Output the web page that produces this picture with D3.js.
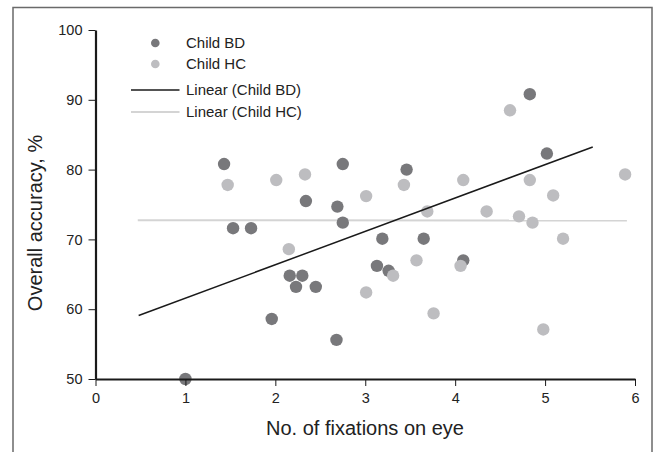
<!DOCTYPE html>
<html>
<head>
<meta charset="utf-8">
<script src="https://cdn.jsdelivr.net/npm/d3@7"></script>
<style>
body { margin: 0; background: #fff; }
svg { display: block; font-family: "Liberation Sans", Arial, sans-serif; }
</style>
</head>
<body>
<svg id="chart" width="656" height="452"></svg>
<script>
var seriesNames = ["Child BD", "Child HC"];
var bdX = [1.0, 1.43, 1.53, 1.73, 1.96, 2.16, 2.30, 2.23, 2.45, 2.34, 2.69, 2.75, 2.75, 2.68, 3.13, 3.19, 3.26, 3.46, 3.65, 4.09, 4.83, 5.02];
var bdY = [50.0, 80.8, 71.6, 71.6, 58.6, 64.8, 64.8, 63.2, 63.2, 75.5, 74.7, 80.8, 72.4, 55.6, 66.2, 70.1, 65.5, 80.0, 70.1, 67.0, 90.8, 82.3];
var hcX = [1.47, 2.01, 2.15, 2.33, 3.01, 3.01, 3.31, 3.43, 3.57, 3.69, 3.76, 4.06, 4.09, 4.35, 4.61, 4.71, 4.83, 4.86, 4.98, 5.09, 5.20, 5.89];
var hcY = [77.8, 78.5, 68.6, 79.3, 76.2, 62.4, 64.8, 77.8, 67.0, 74.0, 59.4, 66.2, 78.5, 74.0, 88.5, 73.3, 78.5, 72.4, 57.1, 76.3, 70.1, 79.3];
// x range each trendline is drawn over
var bdTrendRange = [0.48, 5.53];
var hcTrendRange = [0.47, 5.91];
var xTicks = [0, 1, 2, 3, 4, 5, 6];
var yTicks = [50, 60, 70, 80, 90, 100];

var darkColor = "#78787b";
var lightColor = "#bdbdc0";

var svg = d3.select("#chart");
var xScale = d3.scaleLinear().domain([0, 6]).range([95.5, 635]);
var yScale = d3.scaleLinear().domain([50, 100]).range([379, 30]);

// outer frame
svg.append("rect")
	.attr("x", 13).attr("y", 7.5)
	.attr("width", 639).attr("height", 460)
	.attr("fill", "none")
	.attr("stroke", "#6a6a6a")
	.attr("stroke-width", 1.5);

function linearFit(xs, ys) {
	var mx = d3.mean(xs), my = d3.mean(ys);
	var sxy = 0, sxx = 0;
	for (var i = 0; i<xs.length; i++) {
		sxy += (xs[i]-mx)*(ys[i]-my);
		sxx += (xs[i]-mx)*(xs[i]-mx);
	}
	var slope = sxy/sxx;
	return {slope: slope, intercept: my - slope*mx};
}

function drawTrend(xs, ys, range, color, width) {
	var fit = linearFit(xs, ys);
	var pts = range.map(function (x) { return [x, fit.intercept + fit.slope*x]; });
	svg.append("path")
		.attr("d", d3.line().x(function (d) { return xScale(d[0]); }).y(function (d) { return yScale(d[1]); })(pts))
		.attr("fill", "none")
		.attr("stroke", color)
		.attr("stroke-width", width);
}

function drawPoints(xs, ys, color) {
	svg.append("g").selectAll("circle")
		.data(xs.map(function (x, i) { return [x, ys[i]]; }))
		.join("circle")
		.attr("cx", function (d) { return xScale(d[0]); })
		.attr("cy", function (d) { return yScale(d[1]); })
		.attr("r", 6.2)
		.attr("fill", color);
}

drawTrend(hcX, hcY, hcTrendRange, "#d4d4d4", 2);
drawPoints(bdX, bdY, darkColor);
drawPoints(hcX, hcY, lightColor);
drawTrend(bdX, bdY, bdTrendRange, "#1a1a1a", 1.5);

// axes
var xAxis = svg.append("g")
	.attr("transform", "translate(0,379)")
	.call(d3.axisBottom(xScale).tickValues(xTicks).tickFormat(d3.format("d")).tickSize(7).tickSizeOuter(0).tickPadding(7));
var yAxis = svg.append("g")
	.attr("transform", "translate(95.5,0)")
	.call(d3.axisLeft(yScale).tickValues(yTicks).tickFormat(d3.format("d")).tickSize(7).tickSizeOuter(0).tickPadding(6));
[xAxis, yAxis].forEach(function (ax) {
	ax.select(".domain").attr("stroke", "#1a1a1a").attr("stroke-width", 2.2);
	ax.selectAll(".tick line").attr("stroke", "#1a1a1a").attr("stroke-width", 1);
	ax.selectAll(".tick text").attr("fill", "#222").style("font-size", "14.5px").style("font-family", "Liberation Sans, Arial, sans-serif");
});

svg.append("text")
	.attr("x", 365).attr("y", 435)
	.attr("text-anchor", "middle")
	.attr("fill", "#222")
	.style("font-size", "20px")
	.text("No. of fixations on eye");
svg.append("text")
	.attr("transform", "translate(42,223) rotate(-90)")
	.attr("text-anchor", "middle")
	.attr("fill", "#222")
	.style("font-size", "20px")
	.text("Overall accuracy, %");

// legend
var legendRows = [
	{label: seriesNames[0], kind: "dot", color: darkColor, y: 43},
	{label: seriesNames[1], kind: "dot", color: lightColor, y: 64},
	{label: "Linear (" + seriesNames[0] + ")", kind: "line", color: "#1a1a1a", y: 90},
	{label: "Linear (" + seriesNames[1] + ")", kind: "line", color: "#d4d4d4", y: 112}
];
var legend = svg.append("g");
legendRows.forEach(function (row) {
	if (row.kind == "dot") {
		legend.append("circle").attr("cx", 155.3).attr("cy", row.y).attr("r", 4.3).attr("fill", row.color);
	} else {
		legend.append("line").attr("x1", 131).attr("x2", 179.5).attr("y1", row.y).attr("y2", row.y)
			.attr("stroke", row.color).attr("stroke-width", row.color == "#1a1a1a" ? 1.5 : 2);
	}
	legend.append("text")
		.attr("x", 186).attr("y", row.y)
		.attr("dy", "0.36em")
		.attr("fill", "#222")
		.style("font-size", "15px")
		.text(row.label);
});
</script>
</body>
</html>
